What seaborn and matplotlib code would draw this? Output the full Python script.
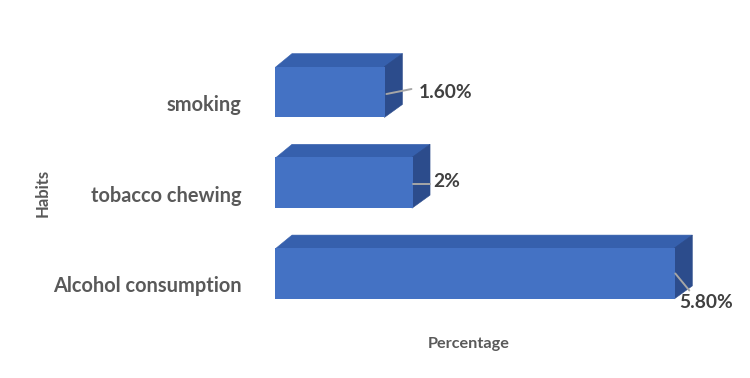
import matplotlib
matplotlib.use("Agg")
import matplotlib.pyplot as plt
import matplotlib.transforms as mtransforms
import seaborn as sns
import pandas as pd
from matplotlib.patches import Polygon

categories = ["smoking", "tobacco chewing", "Alcohol consumption"]
values = [1.6, 2.0, 5.8]
value_labels = ["1.60%", "2%", "5.80%"]

sns.set_theme(style="white")
plt.rcParams["font.family"] = ["Lato", "DejaVu Sans"]

df = pd.DataFrame({"Habits": categories, "Percentage": values})

W, H = 750, 378
fig = plt.figure(figsize=(7.5, 3.78), dpi=100)
ax = fig.add_axes([275 / W, 1 - 318.85 / H, 450 / W, 272.2 / H])

FRONT = "#4472C4"
TOP = "#3660AD"
SIDE = "#2C4C8C"

sns.barplot(data=df, y="Habits", x="Percentage", orient="h", color=FRONT,
            width=0.56, ax=ax, saturation=1, zorder=3, linewidth=0,
            edgecolor="none")
ax.set_xlim(0, 6.52)
ax.set_ylim(2.5, -0.5)

# pixel -> data scales
px_x = 6.52 / 450.0
px_y = 3.0 / 272.2
ddx, ddy = 17 * px_x, 13 * px_y  # depth offset (right, up)
ov = 1.0 * px_y  # small overlap so faces join without gaps

for p in list(ax.patches):
    x0, y0 = p.get_x(), p.get_y()
    w, h = p.get_width(), p.get_height()
    ytop, ybot = y0, y0 + h
    top = Polygon([(x0, ytop + ov), (x0 + ddx, ytop - ddy), (x0 + w + ddx, ytop - ddy), (x0 + w, ytop + ov)],
                  closed=True, facecolor=TOP, edgecolor=TOP, lw=0.4, zorder=2)
    side = Polygon([(x0 + w - px_x, ytop), (x0 + w + ddx, ytop - ddy), (x0 + w + ddx, ybot - ddy), (x0 + w - px_x, ybot)],
                   closed=True, facecolor=SIDE, edgecolor=SIDE, lw=0.4, zorder=2)
    ax.add_patch(top)
    ax.add_patch(side)

# value labels with leader lines (offsets in pixels: line start, line end, text anchor)
layout = [
    ((1, 2), (26, -3), (33, 0)),
    ((0, 1), (17, 1), (20, -1)),
    ((0, 0), (14, 17), (4, 29)),
]
for i, (v, lab) in enumerate(zip(values, value_labels)):
    (sx, sy), (ex, ey), (tx, ty) = layout[i]
    ax.plot([v + sx * px_x, v + ex * px_x], [i + sy * px_y, i + ey * px_y],
            color="#A6A6A6", lw=1.4, zorder=4, clip_on=False)
    ax.text(v + tx * px_x, i + ty * px_y, lab, ha="left", va="center", fontsize=13.8,
            fontweight="bold", color="#404040", zorder=5, clip_on=False)

for s in ax.spines.values():
    s.set_visible(False)
ax.set_xticks([])
ax.tick_params(axis="y", length=0, pad=24)
shift = mtransforms.ScaledTranslation(0, -11 / 100, fig.dpi_scale_trans)
for t in ax.get_yticklabels():
    t.set_fontsize(14.4)
    t.set_fontweight("bold")
    t.set_color("#595959")
    t.set_transform(t.get_transform() + shift)

ax.set_ylabel("Habits", fontsize=12, fontweight="bold", color="#595959")
ax.yaxis.set_label_coords(-0.498, 0.462)
ax.set_xlabel("Percentage", fontsize=11.7, fontweight="bold", color="#595959")
ax.xaxis.set_label_coords(0.431, -0.068)

fig.savefig("out.png", dpi=100, facecolor="white")
